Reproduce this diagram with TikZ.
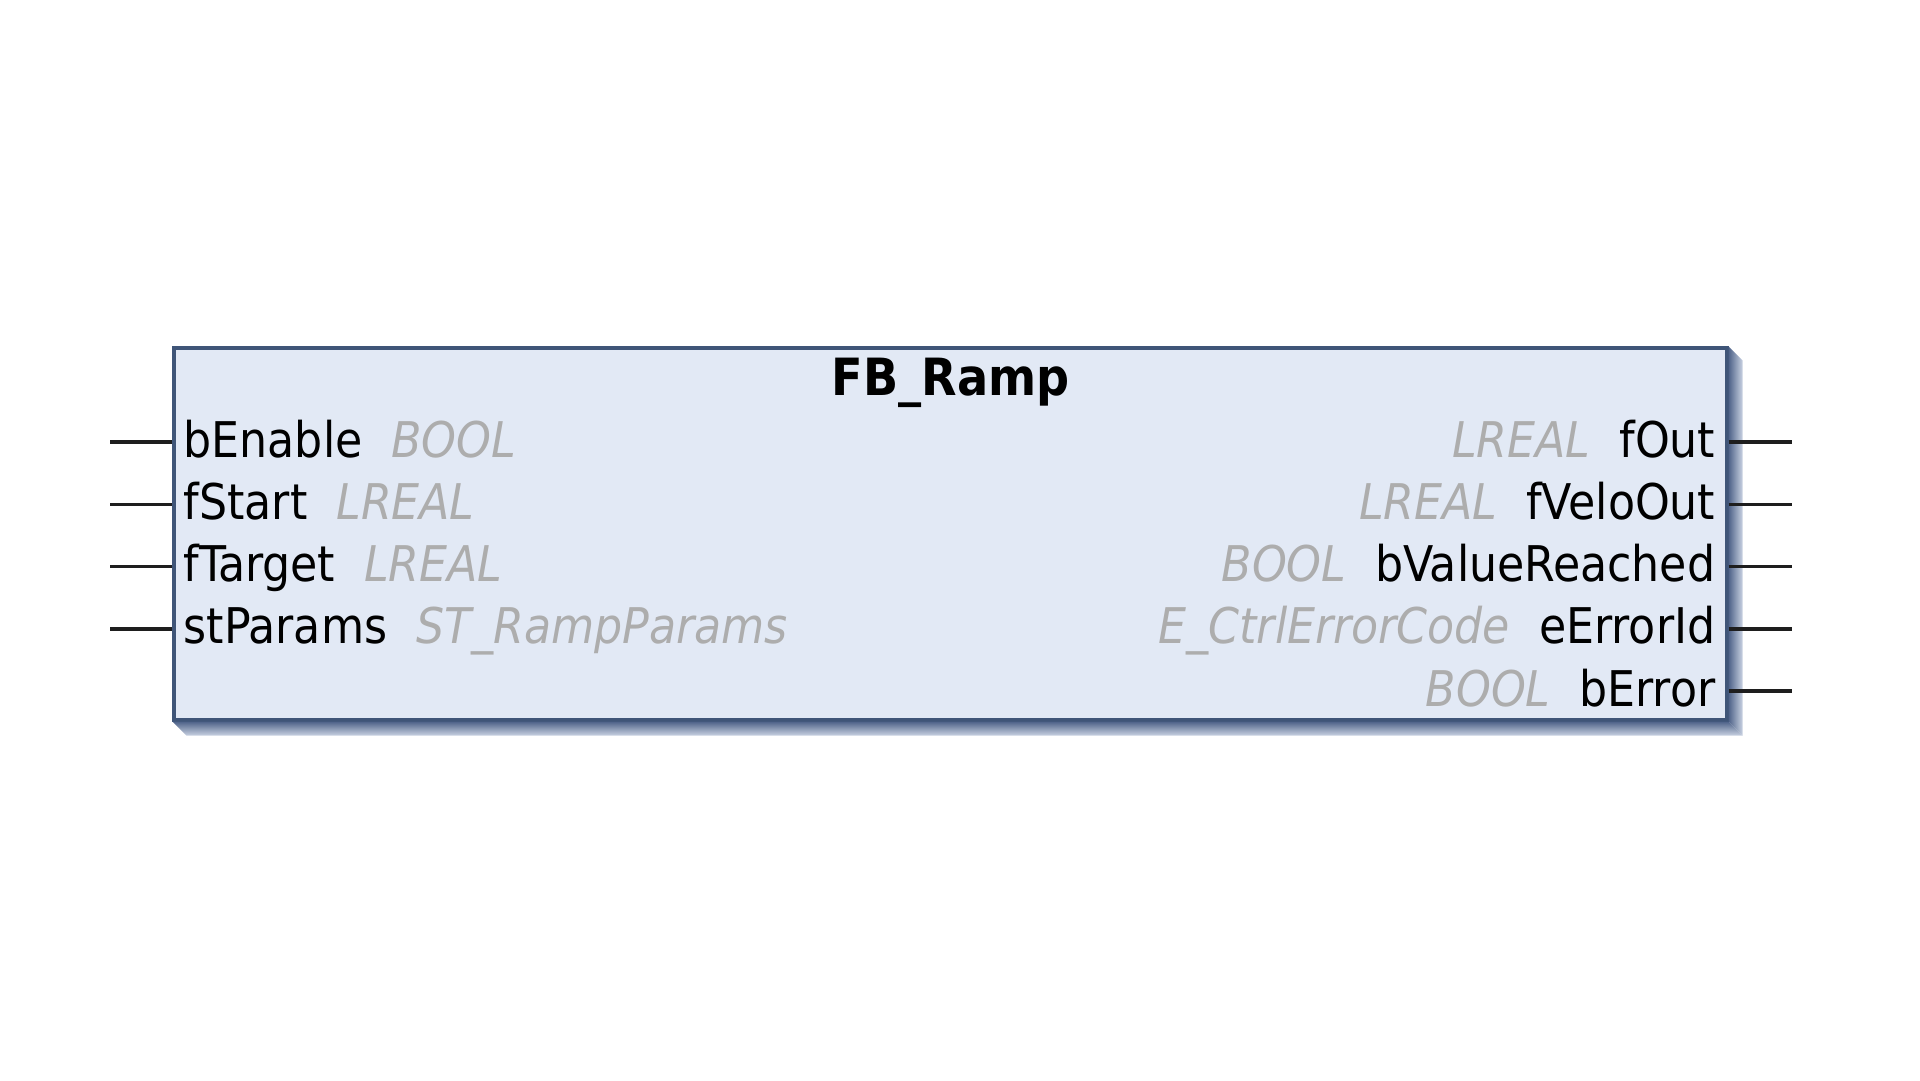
\documentclass[tikz,border=0pt]{standalone}
\usepackage{fontspec}
\setmainfont{DejaVu Sans Condensed}
\usetikzlibrary{positioning}
\definecolor{fbfill}{HTML}{E2E9F5}
\definecolor{fbline}{HTML}{3F5578}
\definecolor{shadowdark}{HTML}{4F6389}
\definecolor{shadowlight}{HTML}{C9D2E2}
\definecolor{typegray}{HTML}{ADADAD}
\definecolor{pinblack}{HTML}{1E1E1E}
\begin{document}
\begin{tikzpicture}[x=0.1mm,y=-0.1mm,
  fbbox/.style={draw=fbline,fill=fbfill,line width=0.9pt,minimum width=155.3mm,minimum height=37.2mm,inner sep=0pt},
  pin/.style={draw=pinblack,line width=1pt},
  pinname/.style={inner sep=0pt,font=\fontsize{14}{16}\selectfont,text=black},
  fbtitle/.style={inner sep=0pt,font=\fontsize{14.6}{16}\selectfont\bfseries}]
\useasboundingbox[fill=white] (0,0) rectangle (1920,1080);
\node[fbbox] (fb) at (950.5,534) {};
\shade[left color=shadowdark,right color=shadowlight] (fb.north east) -- ++(14,14)
  -- ([shift={(14,14)}]fb.south east) -- (fb.south east) -- cycle;
\shade[top color=shadowdark,bottom color=shadowlight] (fb.south west) -- ++(14,14)
  -- ([shift={(14,14)}]fb.south east) -- (fb.south east) -- cycle;
\node[fbtitle,anchor=base] (title) at (950.5,395) {FB\_Ramp};
% inputs
\foreach \pname/\ptype [count=\i] in {bEnable/BOOL,fStart/LREAL,fTarget/LREAL,stParams/ST\_RampParams}{
  \node[pinname,anchor=base west] (in\i) at (183,{457+62.25*(\i-1)}) {\pname\hspace{2.9mm}\textcolor{typegray}{\itshape\ptype}};
  \coordinate (inend\i) at (110,{442+62.25*(\i-1)});
  \draw[pin] (inend\i) -- (inend\i -| fb.west);
}
% outputs
\foreach \pname/\ptype [count=\i] in {fOut/LREAL,fVeloOut/LREAL,bValueReached/BOOL,eErrorId/E\_CtrlErrorCode,bError/BOOL}{
  \node[pinname,anchor=base east] (out\i) at (1716,{457+62.25*(\i-1)}) {\textcolor{typegray}{\itshape\ptype}\hspace{2.9mm}\pname};
  \coordinate (outend\i) at (1792,{442+62.25*(\i-1)});
  \draw[pin] (outend\i -| fb.east) -- (outend\i);
}
\end{tikzpicture}
\end{document}
